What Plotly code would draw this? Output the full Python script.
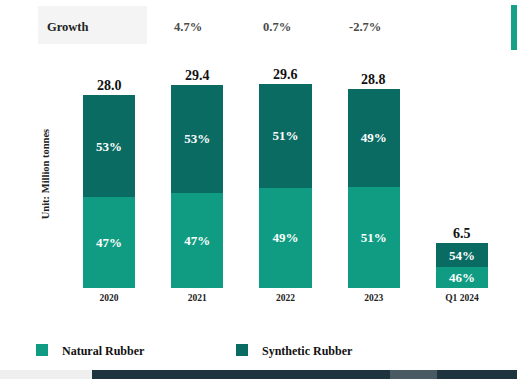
import plotly.graph_objects as go

categories = ["2020", "2021", "2022", "2023", "Q1 2024"]
totals = [28.0, 29.4, 29.6, 28.8, 6.5]
natural_pct = [47, 47, 49, 51, 46]
synthetic_pct = [53, 53, 51, 49, 54]
growth = ["", "4.7%", "0.7%", "-2.7%", ""]

natural_vals = [t * p / 100 for t, p in zip(totals, natural_pct)]
synthetic_vals = [t * p / 100 for t, p in zip(totals, synthetic_pct)]

NAT = "#109c82"
SYN = "#0a6b63"
SERIF = "Liberation Serif"

W, H = 517, 379
L, R, T, B = 65, 11, 60, 91
PW, PH = W - L - R, H - T - B

def px_x(p):
    return (p - L) / PW

def px_y(p):
    return (H - B - p) / PH

bar_font = dict(family=SERIF, size=13, color="white", weight="bold")

fig = go.Figure()
fig.add_trace(go.Bar(
    x=categories, y=natural_vals, name="Natural Rubber",
    marker=dict(color=NAT, line=dict(width=0)),
    text=[f"<b>{p}%</b>" for p in natural_pct], textposition="inside",
    insidetextanchor="middle", constraintext="none",
    textfont=bar_font, insidetextfont=bar_font,
    hoverinfo="skip",
))
fig.add_trace(go.Bar(
    x=categories, y=synthetic_vals, name="Synthetic Rubber",
    marker=dict(color=SYN, line=dict(width=0)),
    text=[f"<b>{p}%</b>" for p in synthetic_pct], textposition="inside",
    insidetextanchor="middle", constraintext="none",
    textfont=bar_font, insidetextfont=bar_font,
    hoverinfo="skip",
))

# totals above bars (category axis -> serial index positions)
for i, t in enumerate(totals):
    fig.add_annotation(x=i, xref="x", y=t, text=f"<b>{t:.1f}</b>", showarrow=False,
                       yanchor="bottom", yshift=0,
                       font=dict(family=SERIF, size=14, color="#111"))

# growth row
fig.add_shape(type="rect", xref="paper", yref="paper",
              x0=px_x(38), x1=px_x(147), y0=px_y(44), y1=px_y(6),
              fillcolor="#f4f4f4", line=dict(width=0), layer="below")
fig.add_annotation(xref="paper", yref="paper", x=px_x(45), y=px_y(27),
                   xanchor="left", yanchor="middle", showarrow=False,
                   text="<b>Growth</b>", font=dict(family=SERIF, size=12.5, color="#222"))
for i, g in enumerate(growth):
    if g:
        fig.add_annotation(x=i, xref="x", yref="paper", y=px_y(27), xshift=-9,
                           yanchor="middle", showarrow=False, text=f"<b>{g}</b>",
                           font=dict(family=SERIF, size=12.5, color="#4a4a4a", weight="bold"))

# screenshot edge artifacts
fig.add_shape(type="rect", xref="paper", yref="paper",
              x0=px_x(511), x1=px_x(517), y0=px_y(50), y1=px_y(5),
              fillcolor="#16a085", line=dict(width=0))
fig.add_shape(type="rect", xref="paper", yref="paper",
              x0=px_x(0), x1=px_x(92), y0=px_y(379), y1=px_y(370),
              fillcolor="#efefef", line=dict(width=0))
fig.add_shape(type="rect", xref="paper", yref="paper",
              x0=px_x(92), x1=px_x(517), y0=px_y(379), y1=px_y(370),
              fillcolor="#1e3540", line=dict(width=0))
fig.add_shape(type="rect", xref="paper", yref="paper",
              x0=px_x(390), x1=px_x(437), y0=px_y(379), y1=px_y(370),
              fillcolor="#4a5a63", line=dict(width=0))

fig.update_layout(
    width=W, height=H,
    margin=dict(l=L, r=R, t=T, b=B, pad=0),
    barmode="stack", bargap=0.41,
    plot_bgcolor="white", paper_bgcolor="white",
    font=dict(family=SERIF, color="#222"),
    showlegend=True,
    legend=dict(orientation="h", x=px_x(22), y=px_y(350), xanchor="left",
                yanchor="middle", entrywidth=155, entrywidthmode="pixels",
                font=dict(family=SERIF, size=12, color="#111", weight="bold"),
                traceorder="normal", bgcolor="rgba(0,0,0,0)"),
    xaxis=dict(type="category", range=[-0.5, len(categories) - 0.5],
               showgrid=False, showline=False, zeroline=False, ticks="",
               ticklabelstandoff=2,
               tickfont=dict(family=SERIF, size=9.5, color="#222", weight="bold")),
    yaxis=dict(range=[0, PH / 6.9], visible=True, showticklabels=False,
               showgrid=False, zeroline=False, showline=False, ticks="",
               title=dict(text="<b>Unit: Million tonnes</b>", standoff=12,
                          font=dict(family=SERIF, size=10.5, color="#222"))),
)

fig.write_html("out.html", config={"displayModeBar": False},
               post_script="document.body.style.margin='0';document.body.style.overflow='hidden';")
